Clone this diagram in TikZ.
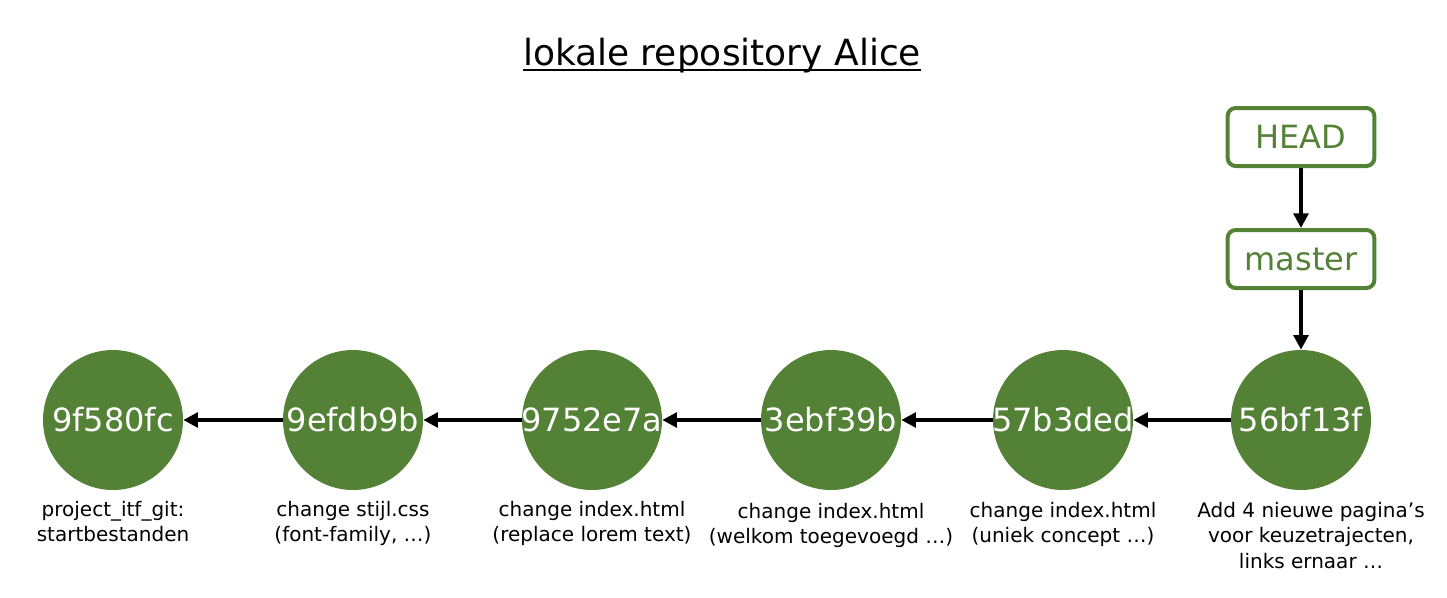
\documentclass[tikz,border=0pt]{standalone}
\usepackage{fontspec}
\setmainfont{DejaVu Sans}
\usetikzlibrary{arrows.meta}
\definecolor{gitgreen}{HTML}{538135}
\tikzset{commit/.style={circle,fill=gitgreen,minimum size=105pt,inner sep=0pt,text=white,font=\fontsize{24}{28}\selectfont},
         pointer/.style={draw=gitgreen,line width=3pt,rounded corners=6pt,minimum width=110pt,minimum height=43.5pt,inner sep=0pt,text=gitgreen,font=\fontsize{24}{28}\selectfont},
         msg/.style={align=center,anchor=north,inner sep=0pt,font=\fontsize{15}{19}\selectfont},
         parent/.style={line width=3.6pt,-{Triangle[length=11pt,width=11pt]}}}

\begin{document}
\begin{tikzpicture}[x=0.75pt,y=-0.75pt]
\useasboundingbox (0,0) rectangle (1447,597);
\node [inner sep=0pt,font=\fontsize{27}{32}\selectfont] (title) at (722,56) {lokale repository Alice};
\draw [line width=1.6pt] ([yshift=-3pt]title.base west) -- ([yshift=-3pt]title.base east);
% commits
\node [commit] (c1) at (113,420) {\makebox[0pt]{9f580fc}};
\node [commit] (c2) at (353,420) {\makebox[0pt]{9efdb9b}};
\node [commit] (c3) at (592,420) {\makebox[0pt]{9752e7a}};
\node [commit] (c4) at (831,420) {\makebox[0pt]{3ebf39b}};
\node [commit] (c5) at (1063,420) {\makebox[0pt]{57b3ded}};
\node [commit] (c6) at (1301,420) {\makebox[0pt]{56bf13f}};
% commit messages
\node [msg] (m1) at (113,501) {project\_itf\_git:\\startbestanden};
\node [msg] (m2) at (353,501) {change stijl.css\\(font-family, …)};
\node [msg] (m3) at (592,501) {change index.html\\(replace lorem text)};
\node [msg] (m4) at (831,503) {change index.html\\(welkom toegevoegd …)};
\node [msg] (m5) at (1063,502) {change index.html\\(uniek concept …)};
\node [msg] (m6) at (1311,502) {Add 4 nieuwe pagina’s\\voor keuzetrajecten,\\links ernaar …};
% refs
\node [pointer] (head) at (1301,137) {HEAD};
\node [pointer] (master) at (1301,259) {master};
\draw [parent] (head) -- (master);
\draw [parent] (master) -- (c6);
\draw [parent] (c6) -- (c5);
\draw [parent] (c5) -- (c4);
\draw [parent] (c4) -- (c3);
\draw [parent] (c3) -- (c2);
\draw [parent] (c2) -- (c1);
\end{tikzpicture}
\end{document}
